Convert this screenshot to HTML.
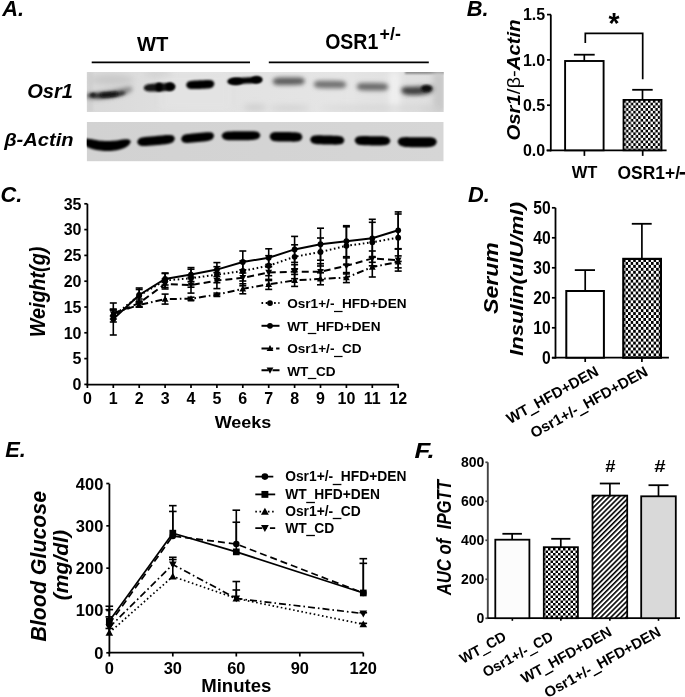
<!DOCTYPE html>
<html><head><meta charset="utf-8"><style>
html,body{margin:0;padding:0;background:#fff;}
svg{display:block;will-change:transform;}
text{font-family:"Liberation Sans", sans-serif;fill:#000;}
</style></head><body>
<svg width="685" height="697" viewBox="0 0 685 697">
<defs>
<clipPath id="clipOsr"><rect x="86.7" y="72" width="357" height="40"/></clipPath>
<clipPath id="clipAct"><rect x="86.7" y="122" width="357" height="39.4"/></clipPath>
<filter id="blur" filterUnits="userSpaceOnUse" x="0" y="0" width="685" height="697"><feGaussianBlur stdDeviation="1.2"/></filter>
<filter id="blur15" filterUnits="userSpaceOnUse" x="0" y="0" width="685" height="697"><feGaussianBlur stdDeviation="1.5"/></filter>
<filter id="blur2s" filterUnits="userSpaceOnUse" x="0" y="0" width="685" height="697"><feGaussianBlur stdDeviation="1.9"/></filter>
<filter id="blur2" filterUnits="userSpaceOnUse" x="0" y="0" width="685" height="697"><feGaussianBlur stdDeviation="3"/></filter>
<linearGradient id="gOsr" x1="0" y1="0" x2="1" y2="0">
 <stop offset="0" stop-color="#d9d9d9"/><stop offset="0.3" stop-color="#e1e1e1"/><stop offset="0.7" stop-color="#e5e5e5"/><stop offset="1" stop-color="#dedede"/></linearGradient>
<linearGradient id="gAct" x1="0" y1="0" x2="1" y2="0">
 <stop offset="0" stop-color="#d2d2d2"/><stop offset="1" stop-color="#d6d6d6"/></linearGradient>
<pattern id="checkB" x="623.5" y="100" width="4.9" height="5.4" patternUnits="userSpaceOnUse"><rect width="4.9" height="5.4" fill="#fff"/><rect width="2.45" height="2.7" fill="#000"/><rect x="2.45" y="2.7" width="2.45" height="2.7" fill="#000"/></pattern>
<pattern id="checkD" x="623" y="259" width="5.1" height="5.9" patternUnits="userSpaceOnUse"><rect width="5.1" height="5.9" fill="#fff"/><rect width="2.55" height="2.95" fill="#000"/><rect x="2.55" y="2.95" width="2.55" height="2.95" fill="#000"/></pattern>
<pattern id="checkF" x="543" y="548" width="5.0" height="5.0" patternUnits="userSpaceOnUse"><rect width="5.0" height="5.0" fill="#fff"/><rect width="2.5" height="2.5" fill="#000"/><rect x="2.5" y="2.5" width="2.5" height="2.5" fill="#000"/></pattern>
<pattern id="hatch" width="3.6" height="3.6" patternUnits="userSpaceOnUse" patternTransform="rotate(45)"><rect width="3.6" height="3.6" fill="#fff"/><rect width="1.6" height="3.6" fill="#000"/></pattern>
</defs>
<text id="pA" transform="translate(2.16 16.08) rotate(0) scale(0.9700 1)" font-size="22.50" font-weight="bold" font-style="italic" >A.</text>
<text id="pB" transform="translate(466.69 16.08) rotate(0) scale(0.9700 1)" font-size="22.50" font-weight="bold" font-style="italic" >B.</text>
<text id="pC" transform="translate(0.42 201.62) rotate(0) scale(0.9700 1)" font-size="22.50" font-weight="bold" font-style="italic" >C.</text>
<text id="pD" transform="translate(467.93 201.84) rotate(0) scale(0.9700 1)" font-size="22.50" font-weight="bold" font-style="italic" >D.</text>
<text id="pE" transform="translate(5.23 457.10) rotate(0) scale(0.9700 1)" font-size="22.50" font-weight="bold" font-style="italic" >E.</text>
<text id="pF" transform="translate(414.54 458.35) rotate(0) scale(1.1500 1)" font-size="22.50" font-weight="bold" font-style="italic" >F.</text>
<text id="aWT" transform="translate(137.02 51.22) rotate(0) scale(0.9714 1)" font-size="20.81" font-weight="bold" font-style="normal" >WT</text>
<text id="aOSR" transform="translate(325.17 49.18) rotate(0) scale(0.8881 1)" font-size="21.97" font-weight="bold" font-style="normal" >OSR1</text>
<text id="aSup" transform="translate(379.61 39.87) rotate(0) scale(0.9606 1)" font-size="18.53" font-weight="bold" font-style="normal" >+/-</text>
<line x1="91.70" y1="62.30" x2="250.00" y2="62.30" stroke="#000" stroke-width="1.8" />
<line x1="268.80" y1="62.30" x2="428.80" y2="62.30" stroke="#000" stroke-width="1.8" />
<text id="aOsr" transform="translate(27.18 98.24) rotate(0) scale(0.9598 1)" font-size="20.95" font-weight="bold" font-style="italic" >Osr1</text>
<text id="aAct" transform="translate(4.14 146.36) rotate(0) scale(1.0492 1)" font-size="19.18" font-weight="bold" font-style="italic" >&#946;-Actin</text>
<g clip-path="url(#clipOsr)">
<rect x="86.7" y="72" width="357" height="40" fill="url(#gOsr)"/>
<rect x="389" y="72" width="11" height="40" fill="#f0f0f0" filter="url(#blur2)"/>
<rect x="348" y="72" width="5" height="39.5" fill="#e6e6e6" filter="url(#blur2)"/>
<rect x="160" y="72" width="70" height="39.5" fill="#e4e4e4" opacity="0.7" filter="url(#blur2)"/>
<rect x="405" y="70" width="40" height="4" fill="#8c8c8c" filter="url(#blur)"/>
<rect x="433" y="72" width="12" height="40" fill="#c8c8c8" filter="url(#blur2)"/>
<rect x="87" y="72" width="6" height="39.5" fill="#cfcfcf" opacity="0.8" filter="url(#blur)"/>
<ellipse cx="112" cy="80" rx="22" ry="5" fill="#c8c8c8" filter="url(#blur2)"/>
<ellipse cx="158" cy="74" rx="14" ry="2.5" fill="#cdcdcd" filter="url(#blur2)"/>
<ellipse cx="380" cy="108" rx="60" ry="2" fill="#d2d2d2" filter="url(#blur2)"/>
<ellipse cx="290" cy="108" rx="20" ry="2" fill="#cbcbcb" filter="url(#blur2)"/>
<ellipse cx="430" cy="109" rx="10" ry="2" fill="#cfcfcf" filter="url(#blur2)"/>
<path d="M84.00,96.00 L86.04,94.02 L88.08,93.34 L90.12,92.90 L92.17,92.57 L94.21,92.30 L96.25,92.06 L98.29,91.83 L100.33,91.60 L102.38,91.35 L104.42,91.08 L106.46,90.80 L108.50,90.50 L110.54,90.18 L112.58,89.83 L114.62,89.47 L116.67,89.08 L118.71,88.67 L120.75,88.25 L122.79,87.83 L124.83,87.43 L126.88,87.08 L128.92,86.86 L130.96,86.90 L133.00,88.50 L133.00,88.50 L130.96,91.44 L128.92,92.77 L126.88,93.76 L124.83,94.57 L122.79,95.27 L120.75,95.88 L118.71,96.42 L116.67,96.92 L114.62,97.38 L112.58,97.79 L110.54,98.17 L108.50,98.50 L106.46,98.79 L104.42,99.04 L102.38,99.25 L100.33,99.40 L98.29,99.51 L96.25,99.56 L94.21,99.54 L92.17,99.43 L90.12,99.20 L88.08,98.78 L86.04,98.07 L84.00,96.00 Z" fill="#8a8a8a" opacity="1.0" filter="url(#blur2s)"/>
<path d="M88.00,95.30 L89.58,94.06 L91.17,93.69 L92.75,93.48 L94.33,93.35 L95.92,93.26 L97.50,93.19 L99.08,93.13 L100.67,93.06 L102.25,92.99 L103.83,92.90 L105.42,92.81 L107.00,92.70 L108.58,92.58 L110.17,92.45 L111.75,92.31 L113.33,92.15 L114.92,91.98 L116.50,91.81 L118.08,91.64 L119.67,91.48 L121.25,91.36 L122.83,91.32 L124.42,91.46 L126.00,92.60 L126.00,92.60 L124.42,94.37 L122.83,95.09 L121.25,95.61 L119.67,96.01 L118.08,96.34 L116.50,96.62 L114.92,96.86 L113.33,97.07 L111.75,97.26 L110.17,97.43 L108.58,97.58 L107.00,97.70 L105.42,97.80 L103.83,97.88 L102.25,97.93 L100.67,97.96 L99.08,97.96 L97.50,97.93 L95.92,97.86 L94.33,97.74 L92.75,97.54 L91.17,97.22 L89.58,96.72 L88.00,95.30 Z" fill="#303030" opacity="1.0" filter="url(#blur15)"/>
<path d="M100.00,95.00 L100.75,93.64 L101.50,93.25 L102.25,93.03 L103.00,92.91 L103.75,92.82 L104.50,92.77 L105.25,92.72 L106.00,92.68 L106.75,92.64 L107.50,92.59 L108.25,92.55 L109.00,92.50 L109.75,92.45 L110.50,92.39 L111.25,92.34 L112.00,92.28 L112.75,92.22 L113.50,92.17 L114.25,92.12 L115.00,92.11 L115.75,92.13 L116.50,92.25 L117.25,92.54 L118.00,93.80 L118.00,93.80 L117.25,95.22 L116.50,95.67 L115.75,95.94 L115.00,96.12 L114.25,96.24 L113.50,96.33 L112.75,96.41 L112.00,96.48 L111.25,96.54 L110.50,96.59 L109.75,96.65 L109.00,96.70 L108.25,96.75 L107.50,96.79 L106.75,96.84 L106.00,96.88 L105.25,96.91 L104.50,96.93 L103.75,96.94 L103.00,96.92 L102.25,96.84 L101.50,96.67 L100.75,96.32 L100.00,95.00 Z" fill="#0a0a0a" opacity="1.0" filter="url(#blur15)"/>
<ellipse cx="93" cy="95" rx="2.5" ry="2" fill="#222" filter="url(#blur)"/>
<path d="M143.50,88.00 L144.83,85.64 L146.17,84.87 L147.50,84.40 L148.83,84.10 L150.17,83.90 L151.50,83.75 L152.83,83.64 L154.17,83.55 L155.50,83.48 L156.83,83.41 L158.17,83.35 L159.50,83.30 L160.83,83.25 L162.17,83.21 L163.50,83.17 L164.83,83.13 L166.17,83.10 L167.50,83.09 L168.83,83.10 L170.17,83.16 L171.50,83.31 L172.83,83.63 L174.17,84.29 L175.50,86.80 L175.50,86.80 L174.17,89.37 L172.83,90.11 L171.50,90.50 L170.17,90.73 L168.83,90.87 L167.50,90.96 L166.17,91.03 L164.83,91.09 L163.50,91.14 L162.17,91.20 L160.83,91.25 L159.50,91.30 L158.17,91.35 L156.83,91.39 L155.50,91.44 L154.17,91.47 L152.83,91.50 L151.50,91.50 L150.17,91.47 L148.83,91.39 L147.50,91.21 L146.17,90.87 L144.83,90.23 L143.50,88.00 Z" fill="#141414" opacity="1.0" filter="url(#blur)"/>
<ellipse cx="159" cy="87.2" rx="3.5" ry="4.4" fill="#000" filter="url(#blur)"/>
<ellipse cx="170" cy="86.6" rx="4.5" ry="4" fill="#000" filter="url(#blur)"/>
<path d="M186.00,85.00 L187.19,82.39 L188.38,81.61 L189.56,81.17 L190.75,80.91 L191.94,80.75 L193.12,80.64 L194.31,80.56 L195.50,80.50 L196.69,80.45 L197.88,80.40 L199.06,80.35 L200.25,80.30 L201.44,80.25 L202.62,80.20 L203.81,80.15 L205.00,80.09 L206.19,80.04 L207.38,80.00 L208.56,79.99 L209.75,80.03 L210.94,80.16 L212.12,80.47 L213.31,81.15 L214.50,83.80 L214.50,83.80 L213.31,86.62 L212.12,87.45 L210.94,87.92 L209.75,88.20 L208.56,88.38 L207.38,88.50 L206.19,88.59 L205.00,88.66 L203.81,88.73 L202.62,88.79 L201.44,88.85 L200.25,88.90 L199.06,88.95 L197.88,88.99 L196.69,89.03 L195.50,89.05 L194.31,89.07 L193.12,89.06 L191.94,89.02 L190.75,88.91 L189.56,88.70 L188.38,88.31 L187.19,87.57 L186.00,85.00 Z" fill="#000" opacity="1.0" filter="url(#blur)"/>
<path d="M227.00,81.60 L228.48,79.45 L229.96,78.81 L231.44,78.45 L232.92,78.22 L234.40,78.08 L235.88,77.97 L237.35,77.89 L238.83,77.81 L240.31,77.74 L241.79,77.66 L243.27,77.58 L244.75,77.50 L246.23,77.41 L247.71,77.33 L249.19,77.23 L250.67,77.13 L252.15,77.03 L253.62,76.94 L255.10,76.86 L256.58,76.82 L258.06,76.85 L259.54,77.02 L261.02,77.50 L262.50,79.60 L262.50,79.60 L261.02,81.87 L259.54,82.51 L258.06,82.85 L256.58,83.05 L255.10,83.17 L253.62,83.26 L252.15,83.33 L250.67,83.40 L249.19,83.47 L247.71,83.54 L246.23,83.62 L244.75,83.70 L243.27,83.79 L241.79,83.87 L240.31,83.96 L238.83,84.06 L237.35,84.15 L235.88,84.23 L234.40,84.29 L232.92,84.31 L231.44,84.25 L229.96,84.06 L228.48,83.58 L227.00,81.60 Z" fill="#050505" opacity="1.0" filter="url(#blur)"/>
<ellipse cx="236" cy="81.4" rx="7" ry="3.7" fill="#000" filter="url(#blur)"/>
<ellipse cx="256.5" cy="79.8" rx="5.5" ry="3.6" fill="#000" filter="url(#blur)"/>
<ellipse cx="255" cy="107.5" rx="12" ry="2.5" fill="#c8c8c8" filter="url(#blur2)"/>
<path d="M272.50,81.40 L273.85,78.99 L275.21,78.31 L276.56,77.95 L277.92,77.75 L279.27,77.64 L280.62,77.58 L281.98,77.54 L283.33,77.52 L284.69,77.50 L286.04,77.48 L287.40,77.47 L288.75,77.45 L290.10,77.43 L291.46,77.42 L292.81,77.40 L294.17,77.39 L295.52,77.38 L296.88,77.38 L298.23,77.41 L299.58,77.49 L300.94,77.65 L302.29,77.98 L303.65,78.63 L305.00,81.00 L305.00,81.00 L303.65,83.41 L302.29,84.09 L300.94,84.45 L299.58,84.65 L298.23,84.76 L296.88,84.82 L295.52,84.86 L294.17,84.88 L292.81,84.90 L291.46,84.92 L290.10,84.93 L288.75,84.95 L287.40,84.97 L286.04,84.98 L284.69,85.00 L283.33,85.01 L281.98,85.02 L280.62,85.02 L279.27,84.99 L277.92,84.91 L276.56,84.75 L275.21,84.42 L273.85,83.77 L272.50,81.40 Z" fill="#5c5c5c" opacity="1.0" filter="url(#blur2s)"/>
<path d="M313.50,84.30 L314.88,81.93 L316.25,81.28 L317.62,80.95 L319.00,80.79 L320.38,80.71 L321.75,80.68 L323.12,80.68 L324.50,80.69 L325.88,80.70 L327.25,80.72 L328.62,80.73 L330.00,80.75 L331.38,80.77 L332.75,80.78 L334.12,80.80 L335.50,80.82 L336.88,80.84 L338.25,80.88 L339.62,80.94 L341.00,81.05 L342.38,81.25 L343.75,81.61 L345.12,82.29 L346.50,84.70 L346.50,84.70 L345.12,87.07 L343.75,87.72 L342.38,88.05 L341.00,88.21 L339.62,88.29 L338.25,88.32 L336.88,88.32 L335.50,88.31 L334.12,88.30 L332.75,88.28 L331.38,88.27 L330.00,88.25 L328.62,88.23 L327.25,88.22 L325.88,88.20 L324.50,88.18 L323.12,88.16 L321.75,88.12 L320.38,88.06 L319.00,87.95 L317.62,87.75 L316.25,87.39 L314.88,86.71 L313.50,84.30 Z" fill="#717171" opacity="1.0" filter="url(#blur2s)"/>
<path d="M356.50,86.60 L357.83,84.23 L359.17,83.58 L360.50,83.25 L361.83,83.09 L363.17,83.01 L364.50,82.98 L365.83,82.98 L367.17,82.99 L368.50,83.00 L369.83,83.02 L371.17,83.03 L372.50,83.05 L373.83,83.07 L375.17,83.08 L376.50,83.10 L377.83,83.12 L379.17,83.14 L380.50,83.18 L381.83,83.24 L383.17,83.35 L384.50,83.55 L385.83,83.91 L387.17,84.59 L388.50,87.00 L388.50,87.00 L387.17,89.37 L385.83,90.02 L384.50,90.35 L383.17,90.51 L381.83,90.59 L380.50,90.62 L379.17,90.62 L377.83,90.61 L376.50,90.60 L375.17,90.58 L373.83,90.57 L372.50,90.55 L371.17,90.53 L369.83,90.52 L368.50,90.50 L367.17,90.48 L365.83,90.46 L364.50,90.42 L363.17,90.36 L361.83,90.25 L360.50,90.05 L359.17,89.69 L357.83,89.01 L356.50,86.60 Z" fill="#6a6a6a" opacity="1.0" filter="url(#blur2s)"/>
<path d="M401.00,90.30 L402.35,87.87 L403.71,87.24 L405.06,86.95 L406.42,86.81 L407.77,86.75 L409.12,86.72 L410.48,86.71 L411.83,86.70 L413.19,86.68 L414.54,86.65 L415.90,86.61 L417.25,86.55 L418.60,86.48 L419.96,86.40 L421.31,86.31 L422.67,86.21 L424.02,86.11 L425.38,86.00 L426.73,85.92 L428.08,85.88 L429.44,85.92 L430.79,86.11 L432.15,86.61 L433.50,88.80 L433.50,88.80 L432.15,91.51 L430.79,92.50 L429.44,93.15 L428.08,93.61 L426.73,93.95 L425.38,94.22 L424.02,94.44 L422.67,94.61 L421.31,94.76 L419.96,94.88 L418.60,94.98 L417.25,95.05 L415.90,95.10 L414.54,95.13 L413.19,95.14 L411.83,95.12 L410.48,95.08 L409.12,95.00 L407.77,94.88 L406.42,94.68 L405.06,94.37 L403.71,93.87 L402.35,93.01 L401.00,90.30 Z" fill="#404040" opacity="1.0" filter="url(#blur2s)"/>
<ellipse cx="426.5" cy="88.4" rx="5.5" ry="3.4" fill="#0c0c0c" filter="url(#blur)"/>
</g>
<g clip-path="url(#clipAct)">
<rect x="86.7" y="122" width="357" height="39.4" fill="url(#gAct)"/>
<path d="M82.00,140.80 L84.04,138.56 L86.08,138.43 L88.12,138.64 L90.17,138.98 L92.21,139.36 L94.25,139.74 L96.29,140.09 L98.33,140.39 L100.38,140.64 L102.42,140.82 L104.46,140.94 L106.50,141.00 L108.54,141.00 L110.58,140.94 L112.62,140.82 L114.67,140.65 L116.71,140.42 L118.75,140.16 L120.79,139.87 L122.83,139.59 L124.88,139.35 L126.92,139.25 L128.96,139.45 L131.00,141.50 L131.00,141.50 L128.96,145.04 L126.92,146.60 L124.88,147.72 L122.83,148.57 L120.79,149.24 L118.75,149.77 L116.71,150.19 L114.67,150.51 L112.62,150.75 L110.58,150.91 L108.54,150.99 L106.50,151.00 L104.46,150.93 L102.42,150.79 L100.38,150.58 L98.33,150.29 L96.29,149.93 L94.25,149.48 L92.21,148.93 L90.17,148.25 L88.12,147.38 L86.08,146.25 L84.04,144.65 L82.00,140.80 Z" fill="#000" opacity="1.0" filter="url(#blur)"/>
<path d="M137.00,142.00 L138.58,138.97 L140.17,138.06 L141.75,137.54 L143.33,137.21 L144.92,136.98 L146.50,136.81 L148.08,136.67 L149.67,136.54 L151.25,136.41 L152.83,136.28 L154.42,136.14 L156.00,136.00 L157.58,135.86 L159.17,135.71 L160.75,135.56 L162.33,135.40 L163.92,135.25 L165.50,135.11 L167.08,135.00 L168.67,134.94 L170.25,134.99 L171.83,135.22 L173.42,135.86 L175.00,138.60 L175.00,138.60 L173.42,141.72 L171.83,142.73 L170.25,143.33 L168.67,143.73 L167.08,144.01 L165.50,144.24 L163.92,144.43 L162.33,144.60 L160.75,144.76 L159.17,144.91 L157.58,145.06 L156.00,145.20 L154.42,145.34 L152.83,145.47 L151.25,145.61 L149.67,145.73 L148.08,145.84 L146.50,145.94 L144.92,146.00 L143.33,145.99 L141.75,145.88 L140.17,145.56 L138.58,144.84 L137.00,142.00 Z" fill="#000" opacity="1.0" filter="url(#blur)"/>
<path d="M181.00,139.00 L182.38,136.03 L183.77,135.12 L185.15,134.61 L186.53,134.28 L187.92,134.05 L189.30,133.89 L190.68,133.74 L192.07,133.61 L193.45,133.49 L194.83,133.36 L196.22,133.23 L197.60,133.10 L198.98,132.97 L200.37,132.83 L201.75,132.69 L203.13,132.55 L204.52,132.41 L205.90,132.29 L207.28,132.19 L208.67,132.15 L210.05,132.21 L211.43,132.46 L212.82,133.10 L214.20,135.80 L214.20,135.80 L212.82,138.84 L211.43,139.80 L210.05,140.37 L208.67,140.74 L207.28,141.01 L205.90,141.21 L204.52,141.39 L203.13,141.54 L201.75,141.69 L200.37,141.83 L198.98,141.97 L197.60,142.10 L196.22,142.23 L194.83,142.36 L193.45,142.49 L192.07,142.61 L190.68,142.72 L189.30,142.81 L187.92,142.88 L186.53,142.88 L185.15,142.77 L183.77,142.46 L182.38,141.77 L181.00,139.00 Z" fill="#000" opacity="1.0" filter="url(#blur)"/>
<path d="M221.50,135.80 L223.12,132.95 L224.75,132.16 L226.38,131.77 L228.00,131.56 L229.62,131.45 L231.25,131.40 L232.88,131.37 L234.50,131.36 L236.12,131.35 L237.75,131.33 L239.38,131.32 L241.00,131.30 L242.62,131.28 L244.25,131.25 L245.88,131.22 L247.50,131.19 L249.12,131.16 L250.75,131.15 L252.38,131.16 L254.00,131.22 L255.62,131.39 L257.25,131.75 L258.88,132.49 L260.50,135.30 L260.50,135.30 L258.88,138.23 L257.25,139.09 L255.62,139.55 L254.00,139.82 L252.38,139.98 L250.75,140.08 L249.12,140.14 L247.50,140.19 L245.88,140.22 L244.25,140.25 L242.62,140.28 L241.00,140.30 L239.38,140.32 L237.75,140.33 L236.12,140.35 L234.50,140.35 L232.88,140.35 L231.25,140.33 L229.62,140.27 L228.00,140.15 L226.38,139.93 L224.75,139.50 L223.12,138.69 L221.50,135.80 Z" fill="#000" opacity="1.0" filter="url(#blur)"/>
<path d="M269.50,136.50 L270.88,133.50 L272.25,132.68 L273.62,132.28 L275.00,132.07 L276.38,131.98 L277.75,131.95 L279.12,131.95 L280.50,131.96 L281.88,131.98 L283.25,132.01 L284.62,132.03 L286.00,132.05 L287.38,132.07 L288.75,132.09 L290.12,132.11 L291.50,132.13 L292.88,132.16 L294.25,132.20 L295.62,132.27 L297.00,132.41 L298.38,132.65 L299.75,133.10 L301.12,133.96 L302.50,137.00 L302.50,137.00 L301.12,140.02 L299.75,140.85 L298.38,141.27 L297.00,141.48 L295.62,141.58 L294.25,141.63 L292.88,141.63 L291.50,141.62 L290.12,141.61 L288.75,141.59 L287.38,141.57 L286.00,141.55 L284.62,141.53 L283.25,141.51 L281.88,141.48 L280.50,141.46 L279.12,141.42 L277.75,141.38 L276.38,141.29 L275.00,141.15 L273.62,140.89 L272.25,140.43 L270.88,139.56 L269.50,136.50 Z" fill="#000" opacity="1.0" filter="url(#blur)"/>
<path d="M310.00,139.50 L311.44,136.68 L312.88,135.93 L314.31,135.56 L315.75,135.39 L317.19,135.32 L318.62,135.31 L320.06,135.33 L321.50,135.36 L322.94,135.39 L324.38,135.43 L325.81,135.47 L327.25,135.50 L328.69,135.53 L330.12,135.56 L331.56,135.59 L333.00,135.63 L334.44,135.66 L335.88,135.71 L337.31,135.79 L338.75,135.92 L340.19,136.16 L341.62,136.59 L343.06,137.41 L344.50,140.30 L344.50,140.30 L343.06,143.15 L341.62,143.93 L340.19,144.32 L338.75,144.52 L337.31,144.61 L335.88,144.64 L334.44,144.64 L333.00,144.62 L331.56,144.59 L330.12,144.56 L328.69,144.53 L327.25,144.50 L325.81,144.47 L324.38,144.43 L322.94,144.39 L321.50,144.35 L320.06,144.30 L318.62,144.24 L317.19,144.14 L315.75,143.99 L314.31,143.72 L312.88,143.27 L311.44,142.42 L310.00,139.50 Z" fill="#000" opacity="1.0" filter="url(#blur)"/>
<path d="M354.50,140.30 L356.00,137.43 L357.50,136.67 L359.00,136.30 L360.50,136.13 L362.00,136.06 L363.50,136.05 L365.00,136.06 L366.50,136.09 L368.00,136.12 L369.50,136.15 L371.00,136.18 L372.50,136.20 L374.00,136.22 L375.50,136.23 L377.00,136.25 L378.50,136.26 L380.00,136.27 L381.50,136.30 L383.00,136.35 L384.50,136.46 L386.00,136.68 L387.50,137.08 L389.00,137.89 L390.50,140.80 L390.50,140.80 L389.00,143.75 L387.50,144.59 L386.00,145.02 L384.50,145.25 L383.00,145.37 L381.50,145.43 L380.00,145.45 L378.50,145.45 L377.00,145.45 L375.50,145.43 L374.00,145.42 L372.50,145.40 L371.00,145.38 L369.50,145.35 L368.00,145.32 L366.50,145.29 L365.00,145.24 L363.50,145.18 L362.00,145.08 L360.50,144.92 L359.00,144.64 L357.50,144.17 L356.00,143.29 L354.50,140.30 Z" fill="#000" opacity="1.0" filter="url(#blur)"/>
<path d="M397.50,141.50 L399.15,138.43 L400.79,137.65 L402.44,137.29 L404.08,137.14 L405.73,137.09 L407.38,137.10 L409.02,137.14 L410.67,137.18 L412.31,137.22 L413.96,137.26 L415.60,137.28 L417.25,137.30 L418.90,137.31 L420.54,137.31 L422.19,137.30 L423.83,137.28 L425.48,137.26 L427.12,137.25 L428.77,137.27 L430.42,137.34 L432.06,137.51 L433.71,137.90 L435.35,138.70 L437.00,141.80 L437.00,141.80 L435.35,145.08 L433.71,146.05 L432.06,146.58 L430.42,146.89 L428.77,147.07 L427.12,147.17 L425.48,147.24 L423.83,147.27 L422.19,147.30 L420.54,147.31 L418.90,147.31 L417.25,147.30 L415.60,147.28 L413.96,147.26 L412.31,147.22 L410.67,147.17 L409.02,147.11 L407.38,147.02 L405.73,146.89 L404.08,146.69 L402.44,146.36 L400.79,145.80 L399.15,144.81 L397.50,141.50 Z" fill="#000" opacity="1.0" filter="url(#blur)"/>
</g>
<line x1="550.80" y1="14.60" x2="550.80" y2="151.30" stroke="#000" stroke-width="1.8" />
<line x1="546.50" y1="150.30" x2="666.60" y2="150.30" stroke="#000" stroke-width="1.8" />
<line x1="547.00" y1="150.50" x2="551.00" y2="150.50" stroke="#000" stroke-width="1.7" />
<text x="545.20" y="156.30" font-size="16" text-anchor="end" font-weight="bold" font-style="normal" >0.0</text>
<line x1="547.00" y1="105.20" x2="551.00" y2="105.20" stroke="#000" stroke-width="1.7" />
<text x="545.20" y="111.00" font-size="16" text-anchor="end" font-weight="bold" font-style="normal" >0.5</text>
<line x1="547.00" y1="59.90" x2="551.00" y2="59.90" stroke="#000" stroke-width="1.7" />
<text x="545.20" y="65.70" font-size="16" text-anchor="end" font-weight="bold" font-style="normal" >1.0</text>
<line x1="547.00" y1="14.60" x2="551.00" y2="14.60" stroke="#000" stroke-width="1.7" />
<text x="545.20" y="20.40" font-size="16" text-anchor="end" font-weight="bold" font-style="normal" >1.5</text>
<rect x="565.1" y="61.0" width="38.5" height="89.30" fill="#fff" stroke="#000" stroke-width="1.9"/>
<rect x="623.5" y="99.9" width="38" height="50.40" fill="url(#checkB)" stroke="#000" stroke-width="1.8"/>
<line x1="584.30" y1="54.70" x2="584.30" y2="61.00" stroke="#000" stroke-width="1.7" />
<line x1="573.90" y1="54.70" x2="594.70" y2="54.70" stroke="#000" stroke-width="1.8" />
<line x1="642.50" y1="89.80" x2="642.50" y2="99.90" stroke="#000" stroke-width="1.7" />
<line x1="632.20" y1="89.80" x2="652.70" y2="89.80" stroke="#000" stroke-width="1.8" />
<line x1="584.40" y1="150.30" x2="584.40" y2="155.90" stroke="#000" stroke-width="1.7" />
<line x1="642.70" y1="150.30" x2="642.70" y2="155.90" stroke="#000" stroke-width="1.7" />
<path d="M585.3,43 V33.4 H642.7 V79.2" stroke="#000" stroke-width="1.7" fill="none" />
<text id="bStar" transform="translate(608.47 33.25) rotate(0) scale(0.9485 1)" font-size="29.91" font-weight="bold" font-style="normal" >*</text>
<text id="bWT" transform="translate(571.76 177.86) rotate(0) scale(0.9906 1)" font-size="16.70" font-weight="bold" font-style="normal" >WT</text>
<text id="bOSR" transform="translate(617.52 178.81) rotate(0) scale(0.9805 1)" font-size="17.78" font-weight="bold" font-style="normal" >OSR1+/</text>
<rect x="679.6" y="172" width="5.4" height="2.6" fill="#000"/>
<text id="bY" transform="translate(519.60 140.50) rotate(-90) scale(1.1280 1)" font-size="18.00" font-weight="bold" font-style="italic" >Osr1<tspan font-weight="normal" font-style="normal">/&#946;-</tspan>Actin</text>
<line x1="87.40" y1="203.80" x2="87.40" y2="385.30" stroke="#000" stroke-width="1.8" />
<line x1="86.50" y1="384.60" x2="398.80" y2="384.60" stroke="#000" stroke-width="1.8" />
<line x1="84.30" y1="384.40" x2="87.40" y2="384.40" stroke="#000" stroke-width="1.7" />
<text x="81.50" y="390.10" font-size="16" text-anchor="end" font-weight="bold" font-style="normal" >0</text>
<line x1="84.30" y1="358.60" x2="87.40" y2="358.60" stroke="#000" stroke-width="1.7" />
<text x="81.50" y="364.30" font-size="16" text-anchor="end" font-weight="bold" font-style="normal" >5</text>
<line x1="84.30" y1="332.80" x2="87.40" y2="332.80" stroke="#000" stroke-width="1.7" />
<text x="81.50" y="338.50" font-size="16" text-anchor="end" font-weight="bold" font-style="normal" >10</text>
<line x1="84.30" y1="307.00" x2="87.40" y2="307.00" stroke="#000" stroke-width="1.7" />
<text x="81.50" y="312.70" font-size="16" text-anchor="end" font-weight="bold" font-style="normal" >15</text>
<line x1="84.30" y1="281.20" x2="87.40" y2="281.20" stroke="#000" stroke-width="1.7" />
<text x="81.50" y="286.90" font-size="16" text-anchor="end" font-weight="bold" font-style="normal" >20</text>
<line x1="84.30" y1="255.40" x2="87.40" y2="255.40" stroke="#000" stroke-width="1.7" />
<text x="81.50" y="261.10" font-size="16" text-anchor="end" font-weight="bold" font-style="normal" >25</text>
<line x1="84.30" y1="229.60" x2="87.40" y2="229.60" stroke="#000" stroke-width="1.7" />
<text x="81.50" y="235.30" font-size="16" text-anchor="end" font-weight="bold" font-style="normal" >30</text>
<line x1="84.30" y1="203.80" x2="87.40" y2="203.80" stroke="#000" stroke-width="1.7" />
<text x="81.50" y="209.50" font-size="16" text-anchor="end" font-weight="bold" font-style="normal" >35</text>
<line x1="87.40" y1="384.60" x2="87.40" y2="388.00" stroke="#000" stroke-width="1.7" />
<text x="87.40" y="404.30" font-size="16" text-anchor="middle" font-weight="bold" font-style="normal" >0</text>
<line x1="113.30" y1="384.60" x2="113.30" y2="388.00" stroke="#000" stroke-width="1.7" />
<text x="113.30" y="404.30" font-size="16" text-anchor="middle" font-weight="bold" font-style="normal" >1</text>
<line x1="139.20" y1="384.60" x2="139.20" y2="388.00" stroke="#000" stroke-width="1.7" />
<text x="139.20" y="404.30" font-size="16" text-anchor="middle" font-weight="bold" font-style="normal" >2</text>
<line x1="165.10" y1="384.60" x2="165.10" y2="388.00" stroke="#000" stroke-width="1.7" />
<text x="165.10" y="404.30" font-size="16" text-anchor="middle" font-weight="bold" font-style="normal" >3</text>
<line x1="191.00" y1="384.60" x2="191.00" y2="388.00" stroke="#000" stroke-width="1.7" />
<text x="191.00" y="404.30" font-size="16" text-anchor="middle" font-weight="bold" font-style="normal" >4</text>
<line x1="216.90" y1="384.60" x2="216.90" y2="388.00" stroke="#000" stroke-width="1.7" />
<text x="216.90" y="404.30" font-size="16" text-anchor="middle" font-weight="bold" font-style="normal" >5</text>
<line x1="242.80" y1="384.60" x2="242.80" y2="388.00" stroke="#000" stroke-width="1.7" />
<text x="242.80" y="404.30" font-size="16" text-anchor="middle" font-weight="bold" font-style="normal" >6</text>
<line x1="268.70" y1="384.60" x2="268.70" y2="388.00" stroke="#000" stroke-width="1.7" />
<text x="268.70" y="404.30" font-size="16" text-anchor="middle" font-weight="bold" font-style="normal" >7</text>
<line x1="294.60" y1="384.60" x2="294.60" y2="388.00" stroke="#000" stroke-width="1.7" />
<text x="294.60" y="404.30" font-size="16" text-anchor="middle" font-weight="bold" font-style="normal" >8</text>
<line x1="320.50" y1="384.60" x2="320.50" y2="388.00" stroke="#000" stroke-width="1.7" />
<text x="320.50" y="404.30" font-size="16" text-anchor="middle" font-weight="bold" font-style="normal" >9</text>
<line x1="346.40" y1="384.60" x2="346.40" y2="388.00" stroke="#000" stroke-width="1.7" />
<text x="346.40" y="404.30" font-size="16" text-anchor="middle" font-weight="bold" font-style="normal" >10</text>
<line x1="372.30" y1="384.60" x2="372.30" y2="388.00" stroke="#000" stroke-width="1.7" />
<text x="372.30" y="404.30" font-size="16" text-anchor="middle" font-weight="bold" font-style="normal" >11</text>
<line x1="398.20" y1="384.60" x2="398.20" y2="388.00" stroke="#000" stroke-width="1.7" />
<text x="398.20" y="404.30" font-size="16" text-anchor="middle" font-weight="bold" font-style="normal" >12</text>
<text id="cWeeks" transform="translate(214.63 428.18) rotate(0) scale(1.0401 1)" font-size="17.30" font-weight="bold" font-style="normal" >Weeks</text>
<text id="cY" transform="translate(44.53 337.24) rotate(-90) scale(0.9103 1)" font-size="21.66" font-weight="bold" font-style="italic" >Weight(g)</text>
<line x1="113.30" y1="310.00" x2="113.30" y2="316.00" stroke="#000" stroke-width="1.6" />
<line x1="109.80" y1="310.00" x2="116.80" y2="310.00" stroke="#000" stroke-width="1.6" />
<line x1="109.80" y1="316.00" x2="116.80" y2="316.00" stroke="#000" stroke-width="1.6" />
<line x1="139.20" y1="303.00" x2="139.20" y2="307.00" stroke="#000" stroke-width="1.6" />
<line x1="135.70" y1="303.00" x2="142.70" y2="303.00" stroke="#000" stroke-width="1.6" />
<line x1="135.70" y1="307.00" x2="142.70" y2="307.00" stroke="#000" stroke-width="1.6" />
<line x1="165.10" y1="294.10" x2="165.10" y2="304.10" stroke="#000" stroke-width="1.6" />
<line x1="161.60" y1="294.10" x2="168.60" y2="294.10" stroke="#000" stroke-width="1.6" />
<line x1="161.60" y1="304.10" x2="168.60" y2="304.10" stroke="#000" stroke-width="1.6" />
<line x1="191.00" y1="297.20" x2="191.00" y2="300.20" stroke="#000" stroke-width="1.6" />
<line x1="187.50" y1="297.20" x2="194.50" y2="297.20" stroke="#000" stroke-width="1.6" />
<line x1="187.50" y1="300.20" x2="194.50" y2="300.20" stroke="#000" stroke-width="1.6" />
<line x1="216.90" y1="293.10" x2="216.90" y2="296.10" stroke="#000" stroke-width="1.6" />
<line x1="213.40" y1="293.10" x2="220.40" y2="293.10" stroke="#000" stroke-width="1.6" />
<line x1="213.40" y1="296.10" x2="220.40" y2="296.10" stroke="#000" stroke-width="1.6" />
<line x1="242.80" y1="283.80" x2="242.80" y2="293.80" stroke="#000" stroke-width="1.6" />
<line x1="239.30" y1="283.80" x2="246.30" y2="283.80" stroke="#000" stroke-width="1.6" />
<line x1="239.30" y1="293.80" x2="246.30" y2="293.80" stroke="#000" stroke-width="1.6" />
<line x1="268.70" y1="279.40" x2="268.70" y2="289.40" stroke="#000" stroke-width="1.6" />
<line x1="265.20" y1="279.40" x2="272.20" y2="279.40" stroke="#000" stroke-width="1.6" />
<line x1="265.20" y1="289.40" x2="272.20" y2="289.40" stroke="#000" stroke-width="1.6" />
<line x1="294.60" y1="274.40" x2="294.60" y2="286.40" stroke="#000" stroke-width="1.6" />
<line x1="291.10" y1="274.40" x2="298.10" y2="274.40" stroke="#000" stroke-width="1.6" />
<line x1="291.10" y1="286.40" x2="298.10" y2="286.40" stroke="#000" stroke-width="1.6" />
<line x1="320.50" y1="272.80" x2="320.50" y2="284.80" stroke="#000" stroke-width="1.6" />
<line x1="317.00" y1="272.80" x2="324.00" y2="272.80" stroke="#000" stroke-width="1.6" />
<line x1="317.00" y1="284.80" x2="324.00" y2="284.80" stroke="#000" stroke-width="1.6" />
<line x1="346.40" y1="272.60" x2="346.40" y2="282.60" stroke="#000" stroke-width="1.6" />
<line x1="342.90" y1="272.60" x2="349.90" y2="272.60" stroke="#000" stroke-width="1.6" />
<line x1="342.90" y1="282.60" x2="349.90" y2="282.60" stroke="#000" stroke-width="1.6" />
<line x1="372.30" y1="257.00" x2="372.30" y2="277.00" stroke="#000" stroke-width="1.6" />
<line x1="368.80" y1="257.00" x2="375.80" y2="257.00" stroke="#000" stroke-width="1.6" />
<line x1="368.80" y1="277.00" x2="375.80" y2="277.00" stroke="#000" stroke-width="1.6" />
<line x1="398.20" y1="255.90" x2="398.20" y2="267.90" stroke="#000" stroke-width="1.6" />
<line x1="394.70" y1="255.90" x2="401.70" y2="255.90" stroke="#000" stroke-width="1.6" />
<line x1="394.70" y1="267.90" x2="401.70" y2="267.90" stroke="#000" stroke-width="1.6" />
<polyline points="113.30,313.00 139.20,305.00 165.10,299.10 191.00,298.70 216.90,294.60 242.80,288.80 268.70,284.40 294.60,280.40 320.50,278.80 346.40,277.60 372.30,267.00 398.20,261.90" fill="none" stroke="#000" stroke-width="2.0" stroke-dasharray="7 3 1.6 3"/>
<path d="M113.30,309.60 L116.70,315.72 L109.90,315.72 Z" fill="#000"/>
<path d="M139.20,301.60 L142.60,307.72 L135.80,307.72 Z" fill="#000"/>
<path d="M165.10,295.70 L168.50,301.82 L161.70,301.82 Z" fill="#000"/>
<path d="M191.00,295.30 L194.40,301.42 L187.60,301.42 Z" fill="#000"/>
<path d="M216.90,291.20 L220.30,297.32 L213.50,297.32 Z" fill="#000"/>
<path d="M242.80,285.40 L246.20,291.52 L239.40,291.52 Z" fill="#000"/>
<path d="M268.70,281.00 L272.10,287.12 L265.30,287.12 Z" fill="#000"/>
<path d="M294.60,277.00 L298.00,283.12 L291.20,283.12 Z" fill="#000"/>
<path d="M320.50,275.40 L323.90,281.52 L317.10,281.52 Z" fill="#000"/>
<path d="M346.40,274.20 L349.80,280.32 L343.00,280.32 Z" fill="#000"/>
<path d="M372.30,263.60 L375.70,269.72 L368.90,269.72 Z" fill="#000"/>
<path d="M398.20,258.50 L401.60,264.62 L394.80,264.62 Z" fill="#000"/>
<line x1="113.30" y1="309.00" x2="113.30" y2="319.00" stroke="#000" stroke-width="1.6" />
<line x1="109.80" y1="309.00" x2="116.80" y2="309.00" stroke="#000" stroke-width="1.6" />
<line x1="109.80" y1="319.00" x2="116.80" y2="319.00" stroke="#000" stroke-width="1.6" />
<line x1="139.20" y1="299.00" x2="139.20" y2="307.00" stroke="#000" stroke-width="1.6" />
<line x1="135.70" y1="299.00" x2="142.70" y2="299.00" stroke="#000" stroke-width="1.6" />
<line x1="135.70" y1="307.00" x2="142.70" y2="307.00" stroke="#000" stroke-width="1.6" />
<line x1="165.10" y1="279.00" x2="165.10" y2="289.00" stroke="#000" stroke-width="1.6" />
<line x1="161.60" y1="279.00" x2="168.60" y2="279.00" stroke="#000" stroke-width="1.6" />
<line x1="161.60" y1="289.00" x2="168.60" y2="289.00" stroke="#000" stroke-width="1.6" />
<line x1="191.00" y1="277.10" x2="191.00" y2="293.10" stroke="#000" stroke-width="1.6" />
<line x1="187.50" y1="277.10" x2="194.50" y2="277.10" stroke="#000" stroke-width="1.6" />
<line x1="187.50" y1="293.10" x2="194.50" y2="293.10" stroke="#000" stroke-width="1.6" />
<line x1="216.90" y1="272.60" x2="216.90" y2="288.60" stroke="#000" stroke-width="1.6" />
<line x1="213.40" y1="272.60" x2="220.40" y2="272.60" stroke="#000" stroke-width="1.6" />
<line x1="213.40" y1="288.60" x2="220.40" y2="288.60" stroke="#000" stroke-width="1.6" />
<line x1="242.80" y1="269.80" x2="242.80" y2="285.80" stroke="#000" stroke-width="1.6" />
<line x1="239.30" y1="269.80" x2="246.30" y2="269.80" stroke="#000" stroke-width="1.6" />
<line x1="239.30" y1="285.80" x2="246.30" y2="285.80" stroke="#000" stroke-width="1.6" />
<line x1="268.70" y1="264.50" x2="268.70" y2="280.50" stroke="#000" stroke-width="1.6" />
<line x1="265.20" y1="264.50" x2="272.20" y2="264.50" stroke="#000" stroke-width="1.6" />
<line x1="265.20" y1="280.50" x2="272.20" y2="280.50" stroke="#000" stroke-width="1.6" />
<line x1="294.60" y1="264.70" x2="294.60" y2="278.70" stroke="#000" stroke-width="1.6" />
<line x1="291.10" y1="264.70" x2="298.10" y2="264.70" stroke="#000" stroke-width="1.6" />
<line x1="291.10" y1="278.70" x2="298.10" y2="278.70" stroke="#000" stroke-width="1.6" />
<line x1="320.50" y1="263.70" x2="320.50" y2="279.70" stroke="#000" stroke-width="1.6" />
<line x1="317.00" y1="263.70" x2="324.00" y2="263.70" stroke="#000" stroke-width="1.6" />
<line x1="317.00" y1="279.70" x2="324.00" y2="279.70" stroke="#000" stroke-width="1.6" />
<line x1="346.40" y1="257.90" x2="346.40" y2="273.90" stroke="#000" stroke-width="1.6" />
<line x1="342.90" y1="257.90" x2="349.90" y2="257.90" stroke="#000" stroke-width="1.6" />
<line x1="342.90" y1="273.90" x2="349.90" y2="273.90" stroke="#000" stroke-width="1.6" />
<line x1="372.30" y1="251.00" x2="372.30" y2="265.80" stroke="#000" stroke-width="1.6" />
<line x1="368.80" y1="251.00" x2="375.80" y2="251.00" stroke="#000" stroke-width="1.6" />
<line x1="368.80" y1="265.80" x2="375.80" y2="265.80" stroke="#000" stroke-width="1.6" />
<line x1="398.20" y1="249.10" x2="398.20" y2="271.10" stroke="#000" stroke-width="1.6" />
<line x1="394.70" y1="249.10" x2="401.70" y2="249.10" stroke="#000" stroke-width="1.6" />
<line x1="394.70" y1="271.10" x2="401.70" y2="271.10" stroke="#000" stroke-width="1.6" />
<polyline points="113.30,314.00 139.20,303.00 165.10,284.00 191.00,285.10 216.90,280.60 242.80,277.80 268.70,272.50 294.60,271.70 320.50,271.70 346.40,265.90 372.30,258.40 398.20,260.10" fill="none" stroke="#000" stroke-width="2.0" stroke-dasharray="7 4"/>
<path d="M113.30,317.40 L116.70,311.28 L109.90,311.28 Z" fill="#000"/>
<path d="M139.20,306.40 L142.60,300.28 L135.80,300.28 Z" fill="#000"/>
<path d="M165.10,287.40 L168.50,281.28 L161.70,281.28 Z" fill="#000"/>
<path d="M191.00,288.50 L194.40,282.38 L187.60,282.38 Z" fill="#000"/>
<path d="M216.90,284.00 L220.30,277.88 L213.50,277.88 Z" fill="#000"/>
<path d="M242.80,281.20 L246.20,275.08 L239.40,275.08 Z" fill="#000"/>
<path d="M268.70,275.90 L272.10,269.78 L265.30,269.78 Z" fill="#000"/>
<path d="M294.60,275.10 L298.00,268.98 L291.20,268.98 Z" fill="#000"/>
<path d="M320.50,275.10 L323.90,268.98 L317.10,268.98 Z" fill="#000"/>
<path d="M346.40,269.30 L349.80,263.18 L343.00,263.18 Z" fill="#000"/>
<path d="M372.30,261.80 L375.70,255.68 L368.90,255.68 Z" fill="#000"/>
<path d="M398.20,263.50 L401.60,257.38 L394.80,257.38 Z" fill="#000"/>
<line x1="113.30" y1="310.00" x2="113.30" y2="322.00" stroke="#000" stroke-width="1.6" />
<line x1="109.80" y1="310.00" x2="116.80" y2="310.00" stroke="#000" stroke-width="1.6" />
<line x1="109.80" y1="322.00" x2="116.80" y2="322.00" stroke="#000" stroke-width="1.6" />
<line x1="139.20" y1="289.50" x2="139.20" y2="301.50" stroke="#000" stroke-width="1.6" />
<line x1="135.70" y1="289.50" x2="142.70" y2="289.50" stroke="#000" stroke-width="1.6" />
<line x1="135.70" y1="301.50" x2="142.70" y2="301.50" stroke="#000" stroke-width="1.6" />
<line x1="165.10" y1="273.50" x2="165.10" y2="287.50" stroke="#000" stroke-width="1.6" />
<line x1="161.60" y1="273.50" x2="168.60" y2="273.50" stroke="#000" stroke-width="1.6" />
<line x1="161.60" y1="287.50" x2="168.60" y2="287.50" stroke="#000" stroke-width="1.6" />
<line x1="191.00" y1="269.20" x2="191.00" y2="287.20" stroke="#000" stroke-width="1.6" />
<line x1="187.50" y1="269.20" x2="194.50" y2="269.20" stroke="#000" stroke-width="1.6" />
<line x1="187.50" y1="287.20" x2="194.50" y2="287.20" stroke="#000" stroke-width="1.6" />
<line x1="216.90" y1="266.70" x2="216.90" y2="282.70" stroke="#000" stroke-width="1.6" />
<line x1="213.40" y1="266.70" x2="220.40" y2="266.70" stroke="#000" stroke-width="1.6" />
<line x1="213.40" y1="282.70" x2="220.40" y2="282.70" stroke="#000" stroke-width="1.6" />
<line x1="242.80" y1="261.00" x2="242.80" y2="281.00" stroke="#000" stroke-width="1.6" />
<line x1="239.30" y1="261.00" x2="246.30" y2="261.00" stroke="#000" stroke-width="1.6" />
<line x1="239.30" y1="281.00" x2="246.30" y2="281.00" stroke="#000" stroke-width="1.6" />
<line x1="268.70" y1="255.70" x2="268.70" y2="275.70" stroke="#000" stroke-width="1.6" />
<line x1="265.20" y1="255.70" x2="272.20" y2="255.70" stroke="#000" stroke-width="1.6" />
<line x1="265.20" y1="275.70" x2="272.20" y2="275.70" stroke="#000" stroke-width="1.6" />
<line x1="294.60" y1="244.80" x2="294.60" y2="268.80" stroke="#000" stroke-width="1.6" />
<line x1="291.10" y1="244.80" x2="298.10" y2="244.80" stroke="#000" stroke-width="1.6" />
<line x1="291.10" y1="268.80" x2="298.10" y2="268.80" stroke="#000" stroke-width="1.6" />
<line x1="320.50" y1="238.00" x2="320.50" y2="266.00" stroke="#000" stroke-width="1.6" />
<line x1="317.00" y1="238.00" x2="324.00" y2="238.00" stroke="#000" stroke-width="1.6" />
<line x1="317.00" y1="266.00" x2="324.00" y2="266.00" stroke="#000" stroke-width="1.6" />
<line x1="346.40" y1="226.80" x2="346.40" y2="264.80" stroke="#000" stroke-width="1.6" />
<line x1="342.90" y1="226.80" x2="349.90" y2="226.80" stroke="#000" stroke-width="1.6" />
<line x1="342.90" y1="264.80" x2="349.90" y2="264.80" stroke="#000" stroke-width="1.6" />
<line x1="372.30" y1="222.30" x2="372.30" y2="262.30" stroke="#000" stroke-width="1.6" />
<line x1="368.80" y1="222.30" x2="375.80" y2="222.30" stroke="#000" stroke-width="1.6" />
<line x1="368.80" y1="262.30" x2="375.80" y2="262.30" stroke="#000" stroke-width="1.6" />
<line x1="398.20" y1="214.00" x2="398.20" y2="261.40" stroke="#000" stroke-width="1.6" />
<line x1="394.70" y1="214.00" x2="401.70" y2="214.00" stroke="#000" stroke-width="1.6" />
<line x1="394.70" y1="261.40" x2="401.70" y2="261.40" stroke="#000" stroke-width="1.6" />
<polyline points="113.30,316.00 139.20,295.50 165.10,280.50 191.00,278.20 216.90,274.70 242.80,271.00 268.70,265.70 294.60,256.80 320.50,252.00 346.40,245.80 372.30,242.30 398.20,237.70" fill="none" stroke="#000" stroke-width="2.0" stroke-dasharray="1.6 2.6"/>
<circle cx="113.30" cy="316.00" r="2.90" fill="#000"/>
<circle cx="139.20" cy="295.50" r="2.90" fill="#000"/>
<circle cx="165.10" cy="280.50" r="2.90" fill="#000"/>
<circle cx="191.00" cy="278.20" r="2.90" fill="#000"/>
<circle cx="216.90" cy="274.70" r="2.90" fill="#000"/>
<circle cx="242.80" cy="271.00" r="2.90" fill="#000"/>
<circle cx="268.70" cy="265.70" r="2.90" fill="#000"/>
<circle cx="294.60" cy="256.80" r="2.90" fill="#000"/>
<circle cx="320.50" cy="252.00" r="2.90" fill="#000"/>
<circle cx="346.40" cy="245.80" r="2.90" fill="#000"/>
<circle cx="372.30" cy="242.30" r="2.90" fill="#000"/>
<circle cx="398.20" cy="237.70" r="2.90" fill="#000"/>
<line x1="113.30" y1="303.00" x2="113.30" y2="335.00" stroke="#000" stroke-width="1.6" />
<line x1="109.80" y1="303.00" x2="116.80" y2="303.00" stroke="#000" stroke-width="1.6" />
<line x1="109.80" y1="335.00" x2="116.80" y2="335.00" stroke="#000" stroke-width="1.6" />
<line x1="139.20" y1="288.00" x2="139.20" y2="302.00" stroke="#000" stroke-width="1.6" />
<line x1="135.70" y1="288.00" x2="142.70" y2="288.00" stroke="#000" stroke-width="1.6" />
<line x1="135.70" y1="302.00" x2="142.70" y2="302.00" stroke="#000" stroke-width="1.6" />
<line x1="165.10" y1="273.00" x2="165.10" y2="285.00" stroke="#000" stroke-width="1.6" />
<line x1="161.60" y1="273.00" x2="168.60" y2="273.00" stroke="#000" stroke-width="1.6" />
<line x1="161.60" y1="285.00" x2="168.60" y2="285.00" stroke="#000" stroke-width="1.6" />
<line x1="191.00" y1="267.60" x2="191.00" y2="281.60" stroke="#000" stroke-width="1.6" />
<line x1="187.50" y1="267.60" x2="194.50" y2="267.60" stroke="#000" stroke-width="1.6" />
<line x1="187.50" y1="281.60" x2="194.50" y2="281.60" stroke="#000" stroke-width="1.6" />
<line x1="216.90" y1="262.60" x2="216.90" y2="276.60" stroke="#000" stroke-width="1.6" />
<line x1="213.40" y1="262.60" x2="220.40" y2="262.60" stroke="#000" stroke-width="1.6" />
<line x1="213.40" y1="276.60" x2="220.40" y2="276.60" stroke="#000" stroke-width="1.6" />
<line x1="242.80" y1="251.00" x2="242.80" y2="273.00" stroke="#000" stroke-width="1.6" />
<line x1="239.30" y1="251.00" x2="246.30" y2="251.00" stroke="#000" stroke-width="1.6" />
<line x1="239.30" y1="273.00" x2="246.30" y2="273.00" stroke="#000" stroke-width="1.6" />
<line x1="268.70" y1="248.80" x2="268.70" y2="266.80" stroke="#000" stroke-width="1.6" />
<line x1="265.20" y1="248.80" x2="272.20" y2="248.80" stroke="#000" stroke-width="1.6" />
<line x1="265.20" y1="266.80" x2="272.20" y2="266.80" stroke="#000" stroke-width="1.6" />
<line x1="294.60" y1="236.40" x2="294.60" y2="262.40" stroke="#000" stroke-width="1.6" />
<line x1="291.10" y1="236.40" x2="298.10" y2="236.40" stroke="#000" stroke-width="1.6" />
<line x1="291.10" y1="262.40" x2="298.10" y2="262.40" stroke="#000" stroke-width="1.6" />
<line x1="320.50" y1="228.20" x2="320.50" y2="260.20" stroke="#000" stroke-width="1.6" />
<line x1="317.00" y1="228.20" x2="324.00" y2="228.20" stroke="#000" stroke-width="1.6" />
<line x1="317.00" y1="260.20" x2="324.00" y2="260.20" stroke="#000" stroke-width="1.6" />
<line x1="346.40" y1="225.70" x2="346.40" y2="256.70" stroke="#000" stroke-width="1.6" />
<line x1="342.90" y1="225.70" x2="349.90" y2="225.70" stroke="#000" stroke-width="1.6" />
<line x1="342.90" y1="256.70" x2="349.90" y2="256.70" stroke="#000" stroke-width="1.6" />
<line x1="372.30" y1="219.30" x2="372.30" y2="257.30" stroke="#000" stroke-width="1.6" />
<line x1="368.80" y1="219.30" x2="375.80" y2="219.30" stroke="#000" stroke-width="1.6" />
<line x1="368.80" y1="257.30" x2="375.80" y2="257.30" stroke="#000" stroke-width="1.6" />
<line x1="398.20" y1="211.90" x2="398.20" y2="248.70" stroke="#000" stroke-width="1.6" />
<line x1="394.70" y1="211.90" x2="401.70" y2="211.90" stroke="#000" stroke-width="1.6" />
<line x1="394.70" y1="248.70" x2="401.70" y2="248.70" stroke="#000" stroke-width="1.6" />
<polyline points="113.30,319.00 139.20,295.00 165.10,279.00 191.00,274.60 216.90,269.60 242.80,262.00 268.70,257.80 294.60,249.40 320.50,244.20 346.40,241.20 372.30,238.30 398.20,230.30" fill="none" stroke="#000" stroke-width="2.0" />
<circle cx="113.30" cy="319.00" r="2.90" fill="#000"/>
<circle cx="139.20" cy="295.00" r="2.90" fill="#000"/>
<circle cx="165.10" cy="279.00" r="2.90" fill="#000"/>
<circle cx="191.00" cy="274.60" r="2.90" fill="#000"/>
<circle cx="216.90" cy="269.60" r="2.90" fill="#000"/>
<circle cx="242.80" cy="262.00" r="2.90" fill="#000"/>
<circle cx="268.70" cy="257.80" r="2.90" fill="#000"/>
<circle cx="294.60" cy="249.40" r="2.90" fill="#000"/>
<circle cx="320.50" cy="244.20" r="2.90" fill="#000"/>
<circle cx="346.40" cy="241.20" r="2.90" fill="#000"/>
<circle cx="372.30" cy="238.30" r="2.90" fill="#000"/>
<circle cx="398.20" cy="230.30" r="2.90" fill="#000"/>
<line x1="261.5" y1="303.1" x2="279.5" y2="303.1" stroke="#000" stroke-width="2" stroke-dasharray="1.6 2.6"/>
<circle cx="270.00" cy="303.10" r="2.90" fill="#000"/>
<text id="cL0" transform="translate(287.20 308.40) rotate(0) scale(1.0000 1)" font-size="13.60" font-weight="bold" font-style="normal" >Osr1+/-<tspan dy="1.1" stroke="#000" stroke-width="0.75">_</tspan><tspan dy="-1.1">HFD+DEN</tspan></text>
<line x1="261.5" y1="325.8" x2="279.5" y2="325.8" stroke="#000" stroke-width="2" />
<circle cx="270.00" cy="325.80" r="2.90" fill="#000"/>
<text id="cL1" transform="translate(287.20 331.10) rotate(0) scale(1.0000 1)" font-size="13.60" font-weight="bold" font-style="normal" >WT<tspan dy="1.1" stroke="#000" stroke-width="0.75">_</tspan><tspan dy="-1.1">HFD+DEN</tspan></text>
<line x1="261.5" y1="348.4" x2="279.5" y2="348.4" stroke="#000" stroke-width="2" stroke-dasharray="7 3 1.6 3"/>
<path d="M270.00,345.00 L273.40,351.12 L266.60,351.12 Z" fill="#000"/>
<text id="cL2" transform="translate(287.20 353.40) rotate(0) scale(1.0000 1)" font-size="13.60" font-weight="bold" font-style="normal" >Osr1+/-<tspan dy="1.1" stroke="#000" stroke-width="0.75">_</tspan><tspan dy="-1.1">CD</tspan></text>
<line x1="261.5" y1="370.3" x2="279.5" y2="370.3" stroke="#000" stroke-width="2" stroke-dasharray="7 4"/>
<path d="M270.00,373.70 L273.40,367.58 L266.60,367.58 Z" fill="#000"/>
<text id="cL3" transform="translate(287.20 375.60) rotate(0) scale(1.0000 1)" font-size="13.60" font-weight="bold" font-style="normal" >WT<tspan dy="1.1" stroke="#000" stroke-width="0.75">_</tspan><tspan dy="-1.1">CD</tspan></text>
<line x1="555.50" y1="207.80" x2="555.50" y2="358.60" stroke="#000" stroke-width="1.8" />
<line x1="551.90" y1="357.70" x2="668.90" y2="357.70" stroke="#000" stroke-width="1.8" />
<line x1="551.90" y1="357.80" x2="555.50" y2="357.80" stroke="#000" stroke-width="1.7" />
<text transform="translate(550.70 364.29) scale(0.95 1.15)" font-size="16.5" text-anchor="end" font-weight="bold">0</text>
<line x1="551.90" y1="327.80" x2="555.50" y2="327.80" stroke="#000" stroke-width="1.7" />
<text transform="translate(550.70 334.29) scale(0.95 1.15)" font-size="16.5" text-anchor="end" font-weight="bold">10</text>
<line x1="551.90" y1="297.80" x2="555.50" y2="297.80" stroke="#000" stroke-width="1.7" />
<text transform="translate(550.70 304.29) scale(0.95 1.15)" font-size="16.5" text-anchor="end" font-weight="bold">20</text>
<line x1="551.90" y1="267.80" x2="555.50" y2="267.80" stroke="#000" stroke-width="1.7" />
<text transform="translate(550.70 274.29) scale(0.95 1.15)" font-size="16.5" text-anchor="end" font-weight="bold">30</text>
<line x1="551.90" y1="237.80" x2="555.50" y2="237.80" stroke="#000" stroke-width="1.7" />
<text transform="translate(550.70 244.29) scale(0.95 1.15)" font-size="16.5" text-anchor="end" font-weight="bold">40</text>
<line x1="551.90" y1="207.80" x2="555.50" y2="207.80" stroke="#000" stroke-width="1.7" />
<text transform="translate(550.70 214.29) scale(0.95 1.15)" font-size="16.5" text-anchor="end" font-weight="bold">50</text>
<rect x="566.3" y="291.0" width="37.6" height="66.70" fill="#fff" stroke="#000" stroke-width="2.0"/>
<rect x="623.3" y="258.9" width="37.6" height="98.80" fill="url(#checkD)" stroke="#000" stroke-width="2.2"/>
<line x1="585.20" y1="270.10" x2="585.20" y2="290.80" stroke="#000" stroke-width="1.7" />
<line x1="574.80" y1="270.10" x2="595.00" y2="270.10" stroke="#000" stroke-width="1.8" />
<line x1="641.90" y1="223.80" x2="641.90" y2="258.70" stroke="#000" stroke-width="1.7" />
<line x1="631.80" y1="223.80" x2="651.70" y2="223.80" stroke="#000" stroke-width="1.8" />
<line x1="585.20" y1="357.70" x2="585.20" y2="362.00" stroke="#000" stroke-width="1.7" />
<line x1="641.90" y1="357.70" x2="641.90" y2="362.00" stroke="#000" stroke-width="1.7" />
<text id="dY1" transform="translate(497.85 314.01) rotate(-90) scale(1.1561 1)" font-size="20.00" font-weight="bold" font-style="italic" >Serum</text>
<text id="dY2" transform="translate(522.66 356.00) rotate(-90) scale(1.1895 1)" font-size="18.66" font-weight="bold" font-style="italic" >Insulin(uIU/ml)</text>
<text id="dX1" transform="translate(509.98 424.21) rotate(-29) scale(1.0000 1)" font-size="14.94" font-weight="bold" font-style="normal" >WT<tspan dy="1.1" stroke="#000" stroke-width="0.75">_</tspan><tspan dy="-1.1">HFD+DEN</tspan></text>
<text id="dX2" transform="translate(533.89 438.42) rotate(-29) scale(1.0000 1)" font-size="14.97" font-weight="bold" font-style="normal" >Osr1+/-<tspan dy="1.1" stroke="#000" stroke-width="0.75">_</tspan><tspan dy="-1.1">HFD+DEN</tspan></text>
<line x1="109.40" y1="483.80" x2="109.40" y2="653.60" stroke="#000" stroke-width="1.8" />
<line x1="108.50" y1="652.70" x2="363.40" y2="652.70" stroke="#000" stroke-width="1.8" />
<line x1="106.30" y1="652.80" x2="109.40" y2="652.80" stroke="#000" stroke-width="1.7" />
<text transform="translate(103.30 658.81) scale(0.98 1.0)" font-size="16.8" text-anchor="end" font-weight="bold">0</text>
<line x1="106.30" y1="610.48" x2="109.40" y2="610.48" stroke="#000" stroke-width="1.7" />
<text transform="translate(103.30 616.49) scale(0.98 1.0)" font-size="16.8" text-anchor="end" font-weight="bold">100</text>
<line x1="106.30" y1="568.16" x2="109.40" y2="568.16" stroke="#000" stroke-width="1.7" />
<text transform="translate(103.30 574.17) scale(0.98 1.0)" font-size="16.8" text-anchor="end" font-weight="bold">200</text>
<line x1="106.30" y1="525.84" x2="109.40" y2="525.84" stroke="#000" stroke-width="1.7" />
<text transform="translate(103.30 531.85) scale(0.98 1.0)" font-size="16.8" text-anchor="end" font-weight="bold">300</text>
<line x1="106.30" y1="483.52" x2="109.40" y2="483.52" stroke="#000" stroke-width="1.7" />
<text transform="translate(103.30 489.53) scale(0.98 1.0)" font-size="16.8" text-anchor="end" font-weight="bold">400</text>
<line x1="109.30" y1="652.70" x2="109.30" y2="656.50" stroke="#000" stroke-width="1.7" />
<text transform="translate(109.30 674.11) scale(0.98 1.0)" font-size="16.8" text-anchor="middle" font-weight="bold">0</text>
<line x1="172.80" y1="652.70" x2="172.80" y2="656.50" stroke="#000" stroke-width="1.7" />
<text transform="translate(172.80 674.11) scale(0.98 1.0)" font-size="16.8" text-anchor="middle" font-weight="bold">30</text>
<line x1="236.30" y1="652.70" x2="236.30" y2="656.50" stroke="#000" stroke-width="1.7" />
<text transform="translate(236.30 674.11) scale(0.98 1.0)" font-size="16.8" text-anchor="middle" font-weight="bold">60</text>
<line x1="299.80" y1="652.70" x2="299.80" y2="656.50" stroke="#000" stroke-width="1.7" />
<text transform="translate(299.80 674.11) scale(0.98 1.0)" font-size="16.8" text-anchor="middle" font-weight="bold">90</text>
<line x1="363.30" y1="652.70" x2="363.30" y2="656.50" stroke="#000" stroke-width="1.7" />
<text transform="translate(363.30 674.11) scale(0.98 1.0)" font-size="16.8" text-anchor="middle" font-weight="bold">120</text>
<text id="eMin" transform="translate(201.19 691.91) rotate(0) scale(0.9701 1)" font-size="19.16" font-weight="bold" font-style="normal" >Minutes</text>
<text id="eY1" transform="translate(45.52 641.51) rotate(-90) scale(0.9525 1)" font-size="22.41" font-weight="bold" font-style="italic" >Blood Glucose</text>
<text id="eY2" transform="translate(68.38 600.21) rotate(-90) scale(1.0899 1)" font-size="19.37" font-weight="bold" font-style="italic" >(mg/dl)</text>
<line x1="109.30" y1="632.70" x2="109.30" y2="628.47" stroke="#000" stroke-width="1.6" />
<line x1="105.50" y1="628.47" x2="113.10" y2="628.47" stroke="#000" stroke-width="1.6" />
<line x1="172.80" y1="576.45" x2="172.80" y2="559.53" stroke="#000" stroke-width="1.6" />
<line x1="169.00" y1="559.53" x2="176.60" y2="559.53" stroke="#000" stroke-width="1.6" />
<line x1="236.30" y1="598.46" x2="236.30" y2="581.53" stroke="#000" stroke-width="1.6" />
<line x1="232.50" y1="581.53" x2="240.10" y2="581.53" stroke="#000" stroke-width="1.6" />
<line x1="363.30" y1="624.19" x2="363.30" y2="623.35" stroke="#000" stroke-width="1.6" />
<line x1="359.50" y1="623.35" x2="367.10" y2="623.35" stroke="#000" stroke-width="1.6" />
<polyline points="109.30,632.70 172.80,576.45 236.30,598.46 363.30,624.19" fill="none" stroke="#000" stroke-width="1.7" stroke-dasharray="1.6 2.6"/>
<path d="M109.30,628.89 L113.11,635.74 L105.49,635.74 Z" fill="#000"/>
<path d="M172.80,572.65 L176.61,579.50 L168.99,579.50 Z" fill="#000"/>
<path d="M236.30,594.65 L240.11,601.51 L232.49,601.51 Z" fill="#000"/>
<path d="M363.30,620.38 L367.11,627.24 L359.49,627.24 Z" fill="#000"/>
<line x1="109.30" y1="627.41" x2="109.30" y2="616.83" stroke="#000" stroke-width="1.6" />
<line x1="105.50" y1="616.83" x2="113.10" y2="616.83" stroke="#000" stroke-width="1.6" />
<line x1="172.80" y1="564.48" x2="172.80" y2="557.28" stroke="#000" stroke-width="1.6" />
<line x1="169.00" y1="557.28" x2="176.60" y2="557.28" stroke="#000" stroke-width="1.6" />
<line x1="236.30" y1="598.46" x2="236.30" y2="590.00" stroke="#000" stroke-width="1.6" />
<line x1="232.50" y1="590.00" x2="240.10" y2="590.00" stroke="#000" stroke-width="1.6" />
<line x1="363.30" y1="613.57" x2="363.30" y2="612.72" stroke="#000" stroke-width="1.6" />
<line x1="359.50" y1="612.72" x2="367.10" y2="612.72" stroke="#000" stroke-width="1.6" />
<polyline points="109.30,627.41 172.80,564.48 236.30,598.46 363.30,613.57" fill="none" stroke="#000" stroke-width="1.7" stroke-dasharray="7 3 1.6 3"/>
<path d="M109.30,631.22 L113.11,624.36 L105.49,624.36 Z" fill="#000"/>
<path d="M172.80,568.29 L176.61,561.43 L168.99,561.43 Z" fill="#000"/>
<path d="M236.30,602.27 L240.11,595.41 L232.49,595.41 Z" fill="#000"/>
<path d="M363.30,617.38 L367.11,610.52 L359.49,610.52 Z" fill="#000"/>
<line x1="109.30" y1="624.02" x2="109.30" y2="606.25" stroke="#000" stroke-width="1.6" />
<line x1="105.50" y1="606.25" x2="113.10" y2="606.25" stroke="#000" stroke-width="1.6" />
<line x1="172.80" y1="536.00" x2="172.80" y2="511.45" stroke="#000" stroke-width="1.6" />
<line x1="169.00" y1="511.45" x2="176.60" y2="511.45" stroke="#000" stroke-width="1.6" />
<line x1="236.30" y1="544.04" x2="236.30" y2="510.18" stroke="#000" stroke-width="1.6" />
<line x1="232.50" y1="510.18" x2="240.10" y2="510.18" stroke="#000" stroke-width="1.6" />
<line x1="363.30" y1="592.96" x2="363.30" y2="558.68" stroke="#000" stroke-width="1.6" />
<line x1="359.50" y1="558.68" x2="367.10" y2="558.68" stroke="#000" stroke-width="1.6" />
<polyline points="109.30,624.02 172.80,536.00 236.30,544.04 363.30,592.96" fill="none" stroke="#000" stroke-width="1.7" stroke-dasharray="7 4"/>
<circle cx="109.30" cy="624.02" r="3.25" fill="#000"/>
<circle cx="172.80" cy="536.00" r="3.25" fill="#000"/>
<circle cx="236.30" cy="544.04" r="3.25" fill="#000"/>
<circle cx="363.30" cy="592.96" r="3.25" fill="#000"/>
<line x1="109.30" y1="621.06" x2="109.30" y2="609.63" stroke="#000" stroke-width="1.6" />
<line x1="105.50" y1="609.63" x2="113.10" y2="609.63" stroke="#000" stroke-width="1.6" />
<line x1="172.80" y1="533.16" x2="172.80" y2="505.65" stroke="#000" stroke-width="1.6" />
<line x1="169.00" y1="505.65" x2="176.60" y2="505.65" stroke="#000" stroke-width="1.6" />
<line x1="236.30" y1="551.87" x2="236.30" y2="522.24" stroke="#000" stroke-width="1.6" />
<line x1="232.50" y1="522.24" x2="240.10" y2="522.24" stroke="#000" stroke-width="1.6" />
<line x1="363.30" y1="592.96" x2="363.30" y2="563.34" stroke="#000" stroke-width="1.6" />
<line x1="359.50" y1="563.34" x2="367.10" y2="563.34" stroke="#000" stroke-width="1.6" />
<polyline points="109.30,621.06 172.80,533.16 236.30,551.87 363.30,592.96" fill="none" stroke="#000" stroke-width="1.7" />
<rect x="105.94" y="617.70" width="6.72" height="6.72" fill="#000"/>
<rect x="169.44" y="529.80" width="6.72" height="6.72" fill="#000"/>
<rect x="232.94" y="548.51" width="6.72" height="6.72" fill="#000"/>
<rect x="359.94" y="589.60" width="6.72" height="6.72" fill="#000"/>
<line x1="255.3" y1="476.6" x2="275.2" y2="476.6" stroke="#000" stroke-width="1.8" stroke-dasharray="7 4"/>
<circle cx="264.90" cy="476.60" r="3.33" fill="#000"/>
<text id="eL0" transform="translate(285.20 481.40) rotate(0) scale(1.0000 1)" font-size="13.80" font-weight="bold" font-style="normal" >Osr1+/-<tspan dy="1.1" stroke="#000" stroke-width="0.75">_</tspan><tspan dy="-1.1">HFD+DEN</tspan></text>
<line x1="255.3" y1="494.4" x2="275.2" y2="494.4" stroke="#000" stroke-width="1.8" />
<rect x="261.45" y="490.95" width="6.90" height="6.90" fill="#000"/>
<text id="eL1" transform="translate(285.20 499.40) rotate(0) scale(1.0000 1)" font-size="13.80" font-weight="bold" font-style="normal" >WT<tspan dy="1.1" stroke="#000" stroke-width="0.75">_</tspan><tspan dy="-1.1">HFD+DEN</tspan></text>
<line x1="255.3" y1="511.6" x2="275.2" y2="511.6" stroke="#000" stroke-width="1.8" stroke-dasharray="1.6 2.6"/>
<path d="M264.90,507.69 L268.81,514.73 L260.99,514.73 Z" fill="#000"/>
<text id="eL2" transform="translate(285.20 515.70) rotate(0) scale(1.0000 1)" font-size="13.80" font-weight="bold" font-style="normal" >Osr1+/-<tspan dy="1.1" stroke="#000" stroke-width="0.75">_</tspan><tspan dy="-1.1">CD</tspan></text>
<line x1="255.3" y1="528.1" x2="275.2" y2="528.1" stroke="#000" stroke-width="1.8" stroke-dasharray="7 3 1.6 3"/>
<path d="M264.90,532.01 L268.81,524.97 L260.99,524.97 Z" fill="#000"/>
<text id="eL3" transform="translate(285.20 532.80) rotate(0) scale(1.0000 1)" font-size="13.80" font-weight="bold" font-style="normal" >WT<tspan dy="1.1" stroke="#000" stroke-width="0.75">_</tspan><tspan dy="-1.1">CD</tspan></text>
<line x1="487.8" y1="462.3" x2="487.8" y2="618.2" stroke="#444" stroke-width="1.9"/>
<line x1="487.00" y1="618.20" x2="680.00" y2="618.20" stroke="#000" stroke-width="1.8" />
<line x1="485.4" y1="618.30" x2="487.8" y2="618.30" stroke="#444" stroke-width="1.7"/>
<text transform="translate(484.30 623.11) scale(1.0 1.0)" font-size="14" text-anchor="end" font-weight="bold">0</text>
<line x1="485.4" y1="579.30" x2="487.8" y2="579.30" stroke="#444" stroke-width="1.7"/>
<text transform="translate(484.30 584.11) scale(1.0 1.0)" font-size="14" text-anchor="end" font-weight="bold">200</text>
<line x1="485.4" y1="540.30" x2="487.8" y2="540.30" stroke="#444" stroke-width="1.7"/>
<text transform="translate(484.30 545.11) scale(1.0 1.0)" font-size="14" text-anchor="end" font-weight="bold">400</text>
<line x1="485.4" y1="501.30" x2="487.8" y2="501.30" stroke="#444" stroke-width="1.7"/>
<text transform="translate(484.30 506.11) scale(1.0 1.0)" font-size="14" text-anchor="end" font-weight="bold">600</text>
<line x1="485.4" y1="462.30" x2="487.8" y2="462.30" stroke="#444" stroke-width="1.7"/>
<text transform="translate(484.30 467.11) scale(1.0 1.0)" font-size="14" text-anchor="end" font-weight="bold">800</text>
<rect x="495.30" y="539.70" width="34.10" height="78.50" fill="#fcfcfc" stroke="#000" stroke-width="1.8"/>
<line x1="512.15" y1="533.80" x2="512.15" y2="539.70" stroke="#000" stroke-width="1.7" />
<line x1="502.40" y1="533.80" x2="521.90" y2="533.80" stroke="#000" stroke-width="1.8" />
<line x1="512.35" y1="618.20" x2="512.35" y2="620.80" stroke="#000" stroke-width="1.6" />
<rect x="543.80" y="547.20" width="34.10" height="71.00" fill="url(#checkF)" stroke="#000" stroke-width="1.8"/>
<line x1="560.80" y1="538.80" x2="560.80" y2="547.20" stroke="#000" stroke-width="1.7" />
<line x1="551.20" y1="538.80" x2="570.40" y2="538.80" stroke="#000" stroke-width="1.8" />
<line x1="560.85" y1="618.20" x2="560.85" y2="620.80" stroke="#000" stroke-width="1.6" />
<rect x="592.50" y="495.60" width="34.70" height="122.60" fill="url(#hatch)" stroke="#000" stroke-width="1.8"/>
<line x1="609.90" y1="483.50" x2="609.90" y2="495.60" stroke="#000" stroke-width="1.7" />
<line x1="599.80" y1="483.50" x2="620.00" y2="483.50" stroke="#000" stroke-width="1.8" />
<line x1="609.85" y1="618.20" x2="609.85" y2="620.80" stroke="#000" stroke-width="1.6" />
<rect x="641.20" y="496.30" width="34.60" height="121.90" fill="#d9d9d9" stroke="#000" stroke-width="1.8"/>
<line x1="658.50" y1="485.20" x2="658.50" y2="496.30" stroke="#000" stroke-width="1.7" />
<line x1="648.50" y1="485.20" x2="668.50" y2="485.20" stroke="#000" stroke-width="1.8" />
<line x1="658.50" y1="618.20" x2="658.50" y2="620.80" stroke="#000" stroke-width="1.6" />
<text id="fH1" transform="translate(605.17 472.19) rotate(0) scale(1.1122 1)" font-size="16.53" font-weight="bold" font-style="normal" >#</text>
<text id="fH2" transform="translate(654.19 472.19) rotate(0) scale(1.2326 1)" font-size="16.53" font-weight="bold" font-style="normal" >#</text>
<text id="fY" transform="translate(451.40 595.32) rotate(-90) scale(0.8358 1)" font-size="20.06" font-weight="bold" font-style="italic" >AUC of&#160; IPGTT</text>
<text id="fX0" transform="translate(462.92 664.02) rotate(-29) scale(1.0000 1)" font-size="14.31" font-weight="bold" font-style="normal" >WT<tspan dy="1.1" stroke="#000" stroke-width="0.75">_</tspan><tspan dy="-1.1">CD</tspan></text>
<text id="fX1" transform="translate(485.94 677.56) rotate(-29) scale(1.0000 1)" font-size="14.31" font-weight="bold" font-style="normal" >Osr1+/-<tspan dy="1.1" stroke="#000" stroke-width="0.75">_</tspan><tspan dy="-1.1">CD</tspan></text>
<text id="fX2" transform="translate(524.54 683.85) rotate(-29) scale(1.0000 1)" font-size="14.71" font-weight="bold" font-style="normal" >WT<tspan dy="1.1" stroke="#000" stroke-width="0.75">_</tspan><tspan dy="-1.1">HFD+DEN</tspan></text>
<text id="fX3" transform="translate(547.79 698.18) rotate(-29) scale(1.0000 1)" font-size="14.85" font-weight="bold" font-style="normal" >Osr1+/-<tspan dy="1.1" stroke="#000" stroke-width="0.75">_</tspan><tspan dy="-1.1">HFD+DEN</tspan></text>
</svg></body></html>
